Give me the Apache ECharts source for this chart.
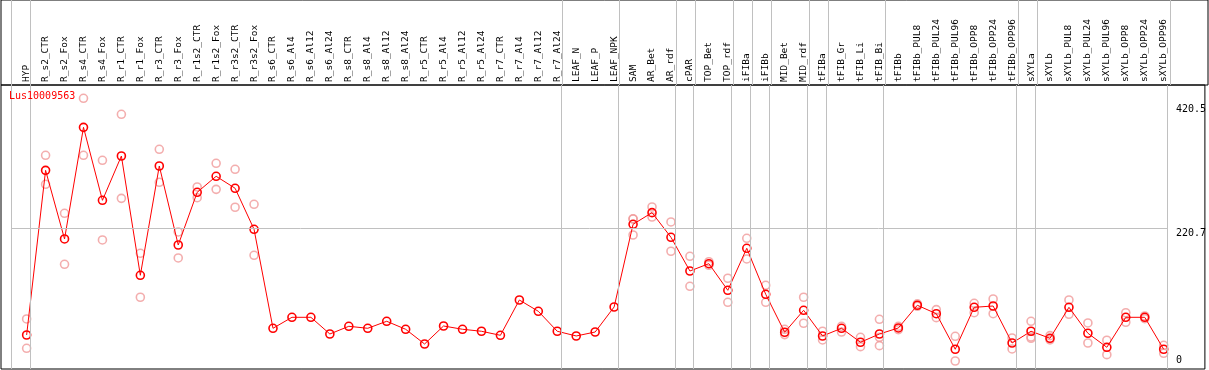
<!DOCTYPE html>
<html>
<head>
<meta charset="utf-8">
<script src="https://cdn.jsdelivr.net/npm/echarts@6/dist/echarts.min.js"></script>
<style>
html,body{margin:0;padding:0;background:#fff;}
#chart{width:1209px;height:370px;}
</style>
</head>
<body>
<div id="chart"></div>
<script>
var categories = ["HYP","R_s2_CTR","R_s2_Fox","R_s4_CTR","R_s4_Fox","R_r1_CTR","R_r1_Fox","R_r3_CTR","R_r3_Fox","R_r1s2_CTR","R_r1s2_Fox","R_r3s2_CTR","R_r3s2_Fox","R_s6_CTR","R_s6_Al4","R_s6_Al12","R_s6_Al24","R_s8_CTR","R_s8_Al4","R_s8_Al12","R_s8_Al24","R_r5_CTR","R_r5_Al4","R_r5_Al12","R_r5_Al24","R_r7_CTR","R_r7_Al4","R_r7_Al12","R_r7_Al24","LEAF_N","LEAF_P","LEAF_NPK","SAM","AR_Bet","AR_rdf","cPAR","TOP_Bet","TOP_rdf","iFIBa","iFIBb","MID_Bet","MID_rdf","tFIBa","tFIB_Gr","tFIB_Li","tFIB_Bi","tFIBb","tFIBb_PUL8","tFIBb_PUL24","tFIBb_PUL96","tFIBb_OPP8","tFIBb_OPP24","tFIBb_OPP96","sXYLa","sXYLb","sXYLb_PUL8","sXYLb_PUL24","sXYLb_PUL96","sXYLb_OPP8","sXYLb_OPP24","sXYLb_OPP96"];

var meanValues = [48.8,314.1,203.5,383.4,265.8,337.2,145.0,321.1,193.8,278.7,304.5,285.2,219.1,
  59.6,77.3,77.3,50.4,62.8,59.6,70.9,58.0,34.3,63.3,58.0,54.8,48.3,105.2,87.0,54.8,47.2,53.6,93.9,
  227.2,245.9,206.2,151.9,163.7,120.8,188.5,114.4,53.2,88.6,47.2,59.6,37.1,50.4,60.1,96.7,83.1,25.8,93.4,95.5,35.9,54.8,43.5,93.4,51.6,29.0,77.3,77.3,25.8];

var rep1 = [74.6,338.3,244.9,430.2,330.3,404.4,180.4,348.0,214.8,287.3,325.4,315.8,259.4,
  null,null,null,null,null,null,null,null,null,null,null,null,null,null,null,null,null,null,null,
  235.7,255.0,230.9,175.6,166.9,140.2,204.6,128.9,58.0,109.6,54.8,62.8,45.1,74.1,62.8,99.0,89.6,46.7,99.9,106.8,44.0,70.9,47.7,105.2,68.2,40.3,84.7,79.5,32.2];

var rep2 = [27.4,291.6,162.7,338.3,201.9,269.0,109.6,294.8,172.9,270.0,283.5,254.6,177.2,
  null,null,null,null,null,null,null,null,null,null,null,null,null,null,null,null,null,null,null,
  209.9,238.9,183.7,127.3,161.1,101.5,171.3,101.5,49.4,67.7,40.8,53.6,30.0,31.6,57.5,95.0,76.7,6.9,84.7,83.1,26.3,45.6,41.0,82.2,35.9,17.1,69.3,75.0,19.3];

var rep3 = [null,null,null,null,null,null,null,null,null,null,null,null,null,
  null,null,null,null,null,null,null,null,null,null,null,null,null,null,null,null,null,null,null,
  236.0,null,null,null,null,null,null,null,null,null,null,null,null,45.1,null,null,null,null,null,null,null,43.5,null,null,null,null,null,null,null];

// index of the last category of each group (-1 = before the first one)
var groupEnds = [-1,0,28,31,34,35,37,38,39,41,42,45,52,53,60];

var yTickTop = [220.7, 420.5];
var yTickBottom = [0];
var refLineValue = 220.7;
var seriesName = "Lus10009563";

// ---- build ----
var X_MIN = -1.3526, X_MAX = 62.174;
var Y_MIN = -6, Y_MAX = 451.6;
var SEP_OFF = 0.2;
var FONT = "DejaVu Sans Mono";
var GRAY = "#c0c0c0";

var meanData = meanValues.map(function (v, i) { return [i, v]; });
var repData = [];
[rep1, rep2, rep3].forEach(function (arr) {
  arr.forEach(function (v, i) { if (v !== null) repData.push([i, v]); });
});
var sepLines = groupEnds.map(function (g) { return { xAxis: g + SEP_OFF }; });
var catIdx = categories.map(function (c, i) { return i; });

var chart = echarts.init(document.getElementById('chart'), null, { renderer: 'canvas' });

var markLineBase = {
  silent: true,
  symbol: ['none', 'none'],
  label: { show: false },
  animation: false,
  lineStyle: { color: GRAY, width: 1, type: 'solid' }
};

chart.setOption({
  animation: false,
  backgroundColor: '#fff',
  title: {
    text: seriesName, left: 9, top: 91, padding: 0,
    textStyle: { color: '#ff0000', fontSize: 10, fontWeight: 'normal', fontFamily: FONT }
  },
  grid: [
    { left: 1, right: 1, top: 0, height: 85, show: true, borderColor: '#000', borderWidth: 1, backgroundColor: 'transparent' },
    { left: 1, right: 1, top: 85, bottom: 1, show: true, borderColor: '#000', borderWidth: 1, backgroundColor: 'transparent' }
  ],
  xAxis: [
    { gridIndex: 0, type: 'value', min: X_MIN, max: X_MAX, show: false },
    {
      gridIndex: 1, type: 'value', min: X_MIN, max: X_MAX, position: 'top',
      axisLine: { show: false }, axisTick: { show: false }, splitLine: { show: false },
      axisLabel: {
        show: true, rotate: 90, margin: 3, customValues: catIdx,
        fontFamily: FONT, fontSize: 9.5, color: '#000',
        formatter: function (v) { return categories[Math.round(v)]; }
      }
    }
  ],
  yAxis: [
    { gridIndex: 0, type: 'value', min: 0, max: 1, show: false },
    {
      gridIndex: 1, type: 'value', min: Y_MIN, max: Y_MAX, position: 'right',
      axisLine: { show: false }, axisTick: { show: false }, splitLine: { show: false },
      axisLabel: {
        show: true, inside: true, margin: 29, align: 'left', verticalAlign: 'top',
        customValues: yTickTop, fontFamily: FONT, fontSize: 10, color: '#000',
        formatter: function (v) { return String(v); }
      }
    },
    {
      gridIndex: 1, type: 'value', min: Y_MIN, max: Y_MAX, position: 'right',
      axisLine: { show: false }, axisTick: { show: false }, splitLine: { show: false },
      axisLabel: {
        show: true, inside: true, margin: 29, align: 'left', verticalAlign: 'bottom',
        customValues: yTickBottom, fontFamily: FONT, fontSize: 10, color: '#000',
        formatter: function (v) { return String(v); }
      }
    }
  ],
  series: [
    {
      type: 'scatter', xAxisIndex: 0, yAxisIndex: 0, data: [[X_MIN, 0]], symbolSize: 0, z: 1, silent: true,
      markLine: Object.assign({}, markLineBase, { data: sepLines })
    },
    {
      type: 'scatter', xAxisIndex: 1, yAxisIndex: 1, data: [[X_MIN, Y_MIN]], symbolSize: 0, z: 1, silent: true,
      markLine: Object.assign({}, markLineBase, {
        data: sepLines.concat([[
          { coord: [groupEnds[0] + SEP_OFF, refLineValue] },
          { coord: [groupEnds[groupEnds.length - 1] + SEP_OFF, refLineValue] }
        ]])
      })
    },
    {
      name: 'replicates', type: 'scatter', xAxisIndex: 1, yAxisIndex: 1, data: repData, z: 2,
      symbol: 'circle', symbolSize: 8,
      itemStyle: { color: 'rgba(0,0,0,0)', borderColor: '#f09a9a', borderWidth: 1.6 }
    },
    {
      name: seriesName, type: 'line', xAxisIndex: 1, yAxisIndex: 1, data: meanData, z: 3,
      symbol: 'circle', symbolSize: 8, showAllSymbol: true,
      lineStyle: { color: '#ff0000', width: 1 },
      itemStyle: { color: 'rgba(0,0,0,0)', borderColor: '#ff0000', borderWidth: 1.6 }
    }
  ]
});
</script>
</body>
</html>
